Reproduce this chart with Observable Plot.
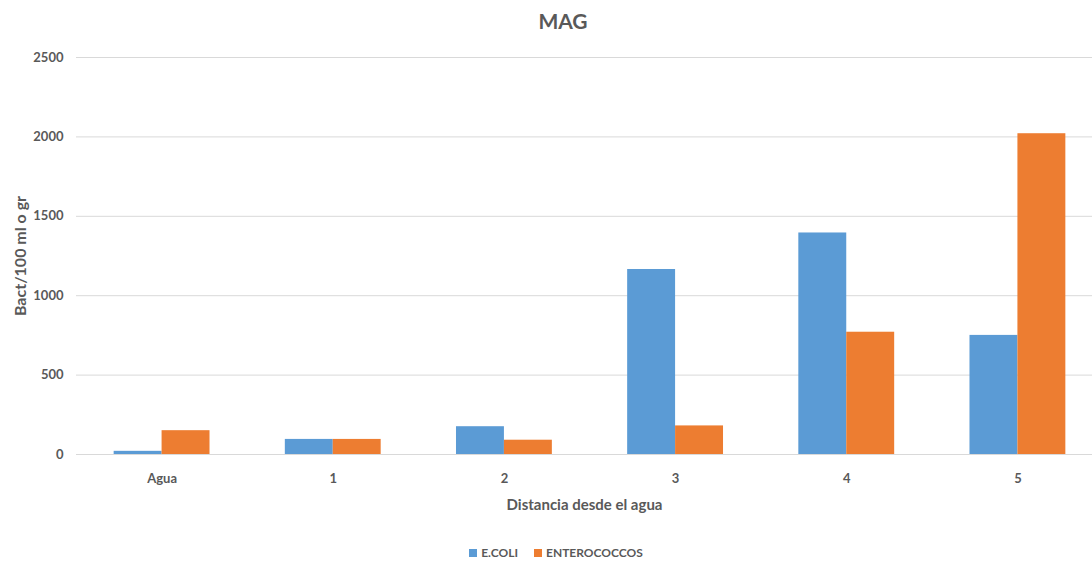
<!DOCTYPE html>
<html>
<head>
<meta charset="utf-8">
<script src="https://cdn.jsdelivr.net/npm/d3@7"></script>
<script src="https://cdn.jsdelivr.net/npm/@observablehq/plot@0.6"></script>
<style>
  body { margin: 0; background: #fff; font-family: Lato, "Open Sans", sans-serif; color: #595959; }
  #title { height: 40px; line-height: 42px; text-align: center; font-size: 21px; font-weight: bold; padding-left: 34px; box-sizing: border-box; width: 1092px; }
  #legend { height: 35px; width: 1092px; display: flex; justify-content: center; align-items: center; gap: 16px; font-size: 12px; font-weight: bold; padding-left: 20px; padding-top: 10px; box-sizing: border-box; }
  .sw { display: inline-block; width: 8px; height: 8px; margin-right: 4px; }
</style>
</head>
<body>
<div id="title">MAG</div>
<div id="chart"></div>
<div id="legend"></div>
<script>
const categories = ["Agua", "1", "2", "3", "4", "5"];
const seriesNames = ["E.COLI", "ENTEROCOCCOS"];
const ecoli = [20, 95, 175, 1165, 1395, 750];
const enterococcos = [150, 95, 90, 180, 770, 2020];
const yTicks = [0, 500, 1000, 1500, 2000, 2500];
const colors = ["#5B9BD5", "#ED7D31"];

const rows = categories.flatMap((c, i) => [
  {cat: c, series: seriesNames[0], value: ecoli[i]},
  {cat: c, series: seriesNames[1], value: enterococcos[i]}
]);

const xRange = [76, 1103];
const padIn = 0.44, padOut = 0.22;
const xs = d3.scaleBand(categories, xRange).paddingInner(padIn).paddingOuter(padOut);
const half = xs.bandwidth() / 2;

const chart = Plot.plot({
  width: 1092,
  height: 490,
  marginTop: 17,
  marginBottom: 76,
  marginLeft: 76,
  marginRight: 0,
  style: {fontFamily: "Lato, 'Open Sans', sans-serif", fontSize: "13px", fontWeight: "bold", color: "#595959", background: "#fff"},
  x: {domain: categories, range: xRange, paddingInner: padIn, paddingOuter: padOut, round: false, axis: null},
  y: {domain: [0, 2500], axis: null},
  color: {domain: seriesNames, range: colors},
  marks: [
    Plot.ruleY(yTicks, {stroke: "#d9d9d9", strokeWidth: 1}),
    Plot.barY(rows.filter(d => d.series === seriesNames[0]), {x: "cat", y: "value", fill: "series", insetRight: half}),
    Plot.barY(rows.filter(d => d.series === seriesNames[1]), {x: "cat", y: "value", fill: "series", insetLeft: half}),
    Plot.axisX({tickSize: 0, tickPadding: 19, label: null, fontSize: 13}),
    Plot.axisY({ticks: yTicks, tickSize: 0, tickPadding: 13, tickFormat: d => String(d), label: null, fontSize: 13}),
    Plot.text(["Distancia desde el agua"], {frameAnchor: "bottom", dy: 55, fontSize: 15, fontWeight: "bold", fill: "#595959"}),
    Plot.text(["Bact/100 ml o gr"], {frameAnchor: "left", textAnchor: "middle", rotate: -90, dx: -56, fontSize: 16, fontWeight: "bold", fill: "#595959"})
  ]
});
document.getElementById("chart").appendChild(chart);

const legend = document.getElementById("legend");
seriesNames.forEach((s, i) => {
  const item = document.createElement("span");
  item.innerHTML = `<span class="sw" style="background:${colors[i]}"></span>${s}`;
  legend.appendChild(item);
});
</script>
</body>
</html>
